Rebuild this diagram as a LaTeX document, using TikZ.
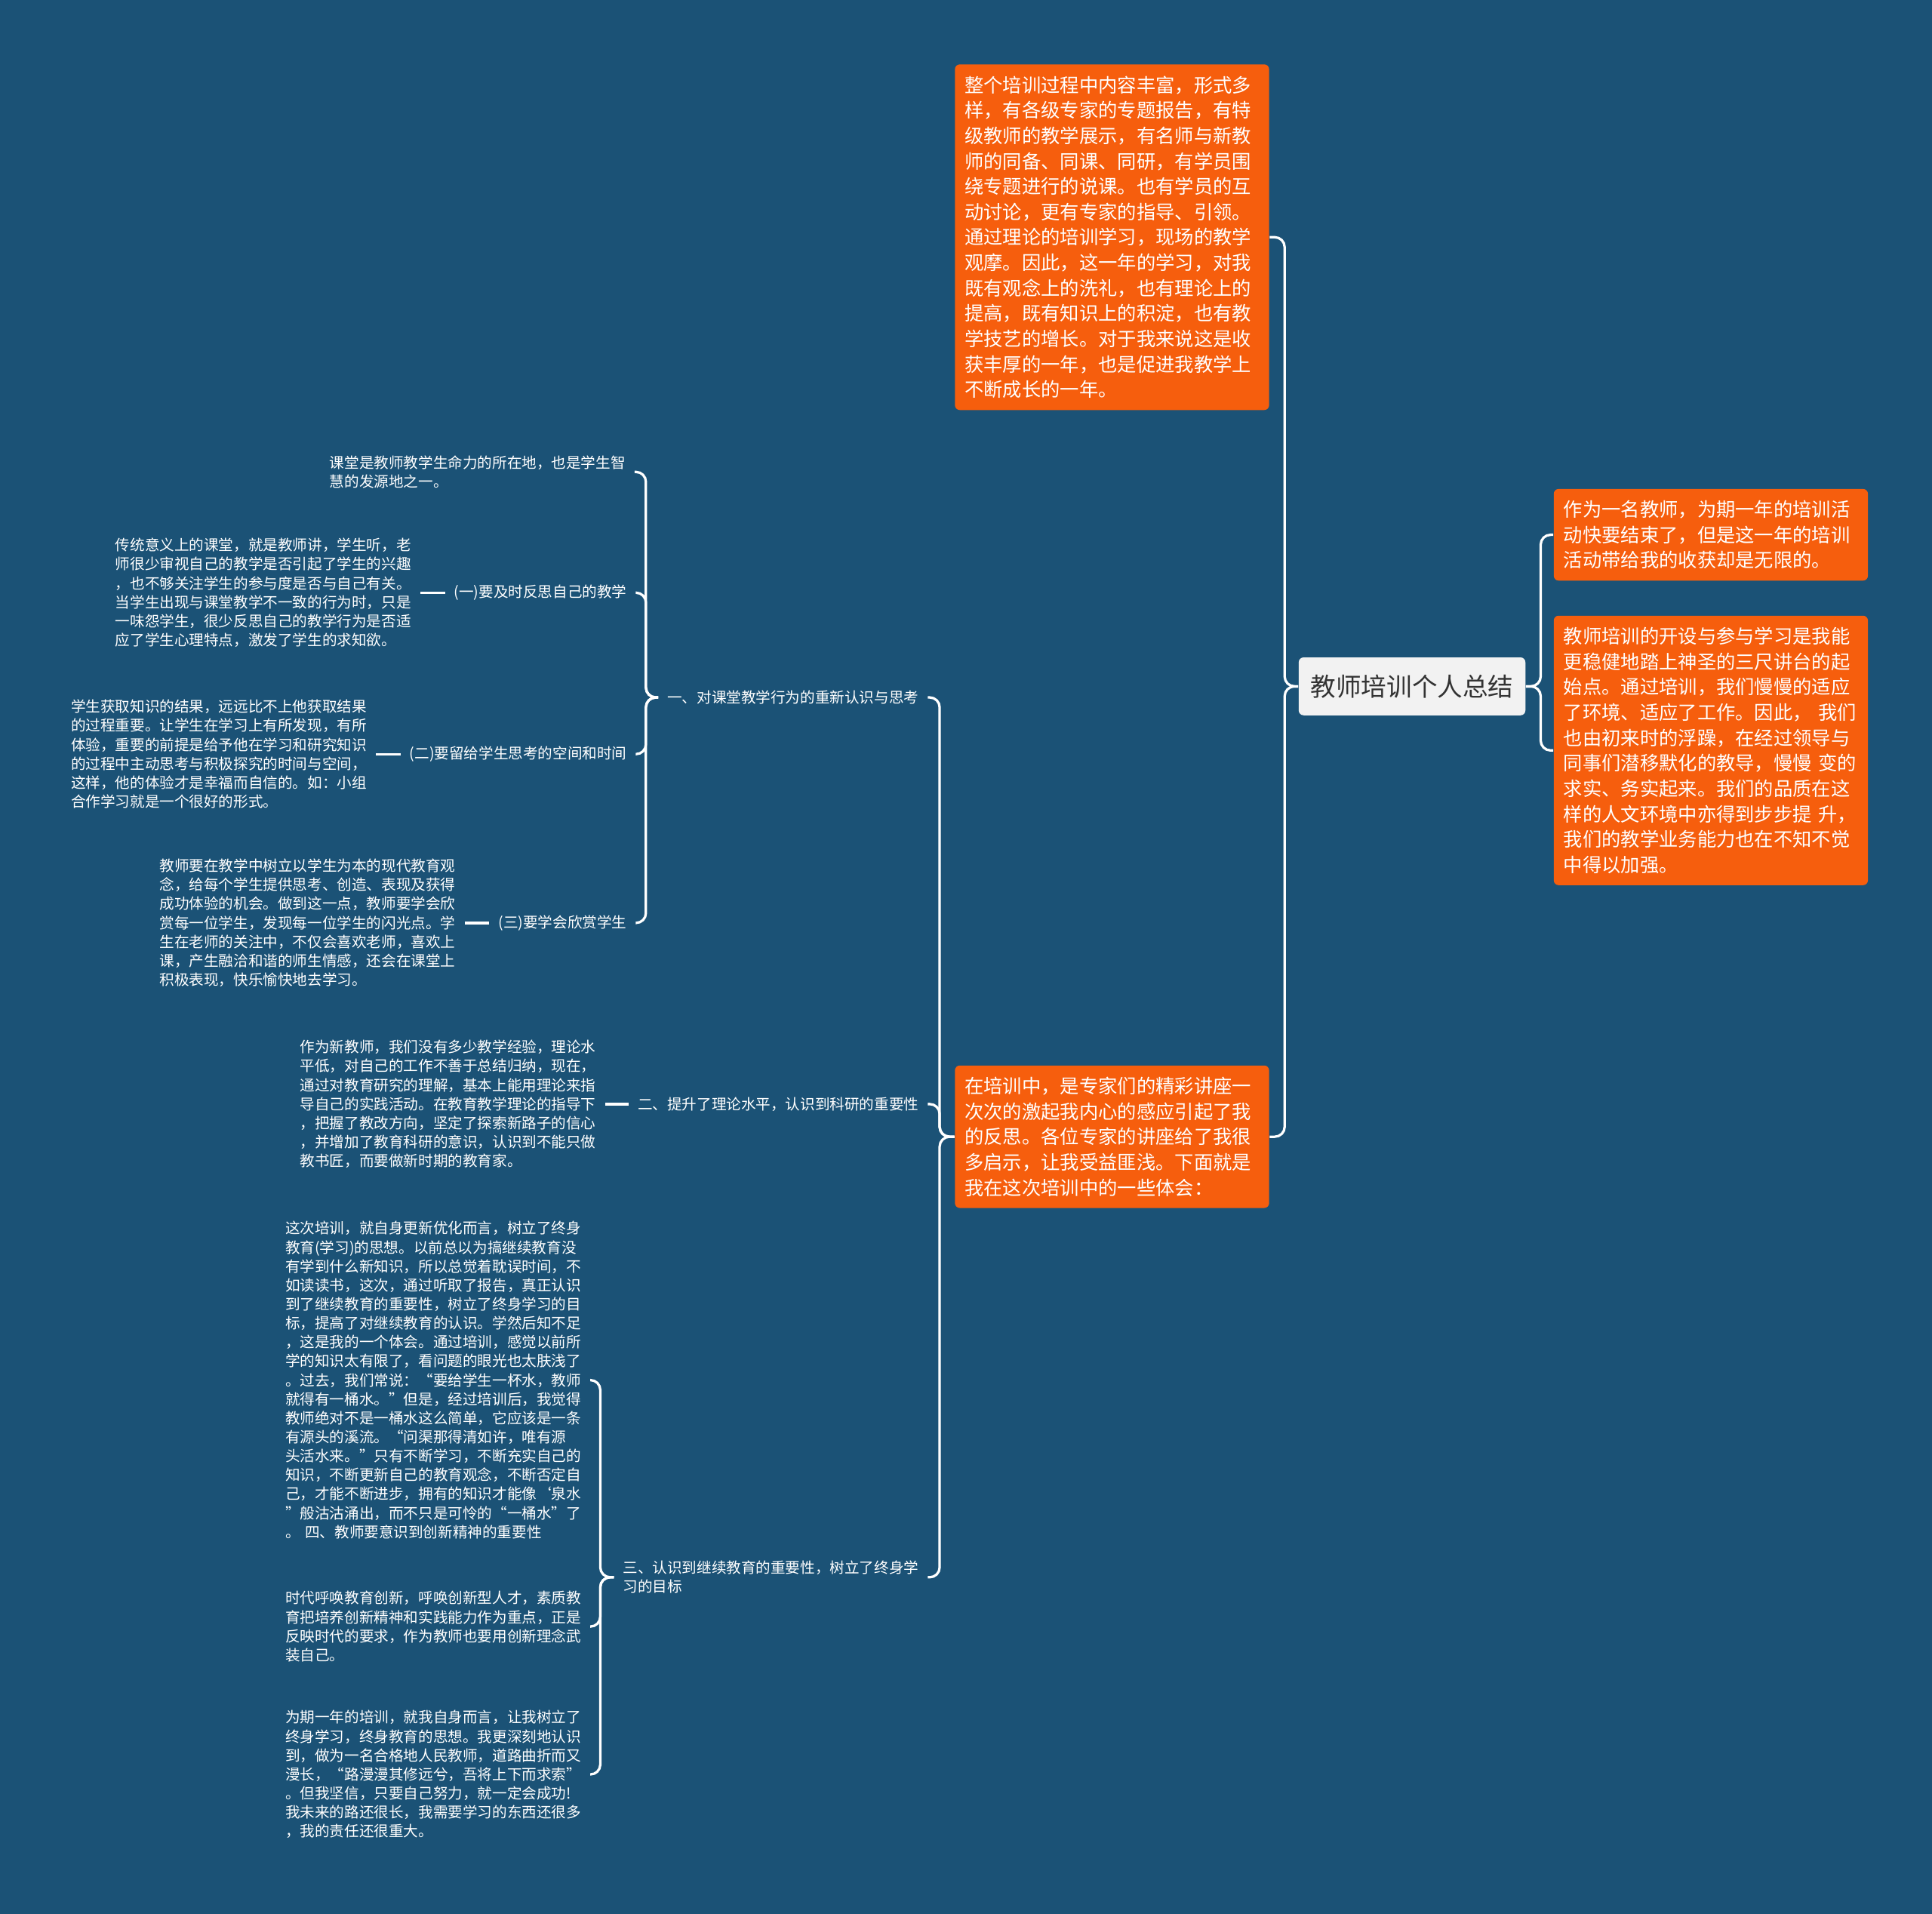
\documentclass[tikz,border=0pt]{standalone}
\usepackage{fontspec}
\setmainfont{Noto Sans CJK SC}
\usepackage{xcolor}
\usepackage{tikz}
\usetikzlibrary{positioning, calc}

\definecolor{bgblue}{HTML}{1B5276}
\definecolor{topicorange}{HTML}{F65E0D}
\definecolor{rootgray}{HTML}{F2F2F2}
\definecolor{roottext}{HTML}{333333}

\begin{document}
\begin{tikzpicture}[
    x=0.5pt, y=-0.5pt,
    central/.style={fill=rootgray, text=roottext, rounded corners=2pt, minimum width=92pt, minimum height=23.5pt, font=\fontsize{10.3}{12}\selectfont},
    topic/.style={fill=topicorange, text=white, rounded corners=2pt, text width=119.5pt, inner xsep=4pt, inner ysep=4.7pt, align=left, font=\fontsize{7.75}{10.3}\selectfont},
    branch/.style={text=white, inner xsep=3.5pt, inner ysep=1pt, align=left, anchor=east, font=\fontsize{6}{7.7}\selectfont},
    leaf/.style={branch, text width=120pt},
    link/.style={draw=white, line width=1pt, rounded corners=4pt},
]
\fill[bgblue] (0,0) rectangle (1568,1553);

\node[central] (root) at (1146,557) {教师培训个人总结};

% Orange topics
\node[topic] (gain) at (1388.5,434) {作为一名教师，为期一年的培训活\\动快要结束了，但是这一年的培训\\活动带给我的收获却是无限的。};
\node[topic] (start) at (1388.5,609) {教师培训的开设与参与学习是我能\\更稳健地踏上神圣的三尺讲台的起\\始点。通过培训，我们慢慢的适应\\了环境、适应了工作。因此， 我们\\也由初来时的浮躁，在经过领导与\\同事们潜移默化的教导，慢慢 变的\\求实、务实起来。我们的品质在这\\样的人文环境中亦得到步步提 升，\\我们的教学业务能力也在不知不觉\\中得以加强。};
\node[topic] (content) at (902.5,192.5) {整个培训过程中内容丰富，形式多\\样，有各级专家的专题报告，有特\\级教师的教学展示，有名师与新教\\师的同备、同课、同研，有学员围\\绕专题进行的说课。也有学员的互\\动讨论，更有专家的指导、引领。\\通过理论的培训学习，现场的教学\\观摩。因此，这一年的学习，对我\\既有观念上的洗礼，也有理论上的\\提高，既有知识上的积淀，也有教\\学技艺的增长。对于我来说这是收\\获丰厚的一年，也是促进我教学上\\不断成长的一年。};
\node[topic] (lecture) at (902.5,922.5) {在培训中，是专家们的精彩讲座一\\次次的激起我内心的感应引起了我\\的反思。各位专家的讲座给了我很\\多启示，让我受益匪浅。下面就是\\我在这次培训中的一些体会：};

% Branches
\node[branch] (classroom) at (753,566) {一、对课堂教学行为的重新认识与思考};
\node[branch] (theory) at (753,896) {二、提升了理论水平，认识到科研的重要性};
\node[branch] (lifelong) at (753,1280) {三、认识到继续教育的重要性，树立了终身学\\习的目标};

\node[branch] (reflect) at (516,481) {(一)要及时反思自己的教学};
\node[branch] (space) at (516,612) {(二)要留给学生思考的空间和时间};
\node[branch] (praise) at (516,749) {(三)要学会欣赏学生};

% Leaves
\node[leaf] (vitality) at (515,383) {课堂是教师教学生命力的所在地，也是学生智\\慧的发源地之一。};
\node[leaf] (tradition) at (341,481) {传统意义上的课堂，就是教师讲，学生听，老\\师很少审视自己的教学是否引起了学生的兴趣\\，也不够关注学生的参与度是否与自己有关。\\当学生出现与课堂教学不一致的行为时，只是\\一味怨学生，很少反思自己的教学行为是否适\\应了学生心理特点，激发了学生的求知欲。};
\node[leaf] (process) at (305,612) {学生获取知识的结果，远远比不上他获取结果\\的过程重要。让学生在学习上有所发现，有所\\体验，重要的前提是给予他在学习和研究知识\\的过程中主动思考与积极探究的时间与空间，\\这样，他的体验才是幸福而自信的。如：小组\\合作学习就是一个很好的形式。};
\node[leaf] (shine) at (377,749) {教师要在教学中树立以学生为本的现代教育观\\念，给每个学生提供思考、创造、表现及获得\\成功体验的机会。做到这一点，教师要学会欣\\赏每一位学生，发现每一位学生的闪光点。学\\生在老师的关注中，不仅会喜欢老师，喜欢上\\课，产生融洽和谐的师生情感，还会在课堂上\\积极表现，快乐愉快地去学习。};
\node[leaf] (newteacher) at (491,896) {作为新教师，我们没有多少教学经验，理论水\\平低，对自己的工作不善于总结归纳，现在，\\通过对教育研究的理解，基本上能用理论来指\\导自己的实践活动。在教育教学理论的指导下\\，把握了教改方向，坚定了探索新路子的信心\\，并增加了教育科研的意识，认识到不能只做\\教书匠，而要做新时期的教育家。};
\node[leaf] (bucket) at (479,1120) {这次培训，就自身更新优化而言，树立了终身\\教育(学习)的思想。以前总以为搞继续教育没\\有学到什么新知识，所以总觉着耽误时间，不\\如读读书，这次，通过听取了报告，真正认识\\到了继续教育的重要性，树立了终身学习的目\\标，提高了对继续教育的认识。学然后知不足\\，这是我的一个体会。通过培训，感觉以前所\\学的知识太有限了，看问题的眼光也太肤浅了\\。过去，我们常说：“要给学生一杯水，教师\\就得有一桶水。”但是，经过培训后，我觉得\\教师绝对不是一桶水这么简单，它应该是一条\\有源头的溪流。“问渠那得清如许，唯有源\\头活水来。”只有不断学习，不断充实自己的\\知识，不断更新自己的教育观念，不断否定自\\己，才能不断进步，拥有的知识才能像‘泉水\\”般沽沽涌出，而不只是可怜的“一桶水”了\\。 四、教师要意识到创新精神的重要性};
\node[leaf] (innovate) at (479,1320) {时代呼唤教育创新，呼唤创新型人才，素质教\\育把培养创新精神和实践能力作为重点，正是\\反映时代的要求，作为教师也要用创新理念武\\装自己。};
\node[leaf] (oneyear) at (479,1440) {为期一年的培训，就我自身而言，让我树立了\\终身学习，终身教育的思想。我更深刻地认识\\到，做为一名合格地人民教师，道路曲折而又\\漫长，“路漫漫其修远兮，吾将上下而求索”\\。但我坚信，只要自己努力，就一定会成功!\\我未来的路还很长，我需要学习的东西还很多\\，我的责任还很重大。};

% Connectors
\foreach \t in {gain, start}
  \draw[link] (root.east) -- ++(12,0) |- (\t.west);
\foreach \t in {content, lecture}
  \draw[link] (root.west) -- ++(-11,0) |- (\t.east);
\foreach \t in {classroom, theory, lifelong}
  \draw[link] (lecture.west) -- ++(-12,0) |- (\t.east);
\foreach \t in {vitality, reflect, space, praise}
  \draw[link] (classroom.west) -- ++(-10,0) |- (\t.east);
\foreach \t in {bucket, innovate, oneyear}
  \draw[link] (lifelong.west) -- ++(-11,0) |- (\t.east);
\draw[link] (reflect.west) -- (tradition.east);
\draw[link] (space.west) -- (process.east);
\draw[link] (praise.west) -- (shine.east);
\draw[link] (theory.west) -- (newteacher.east);

\end{tikzpicture}
\end{document}
